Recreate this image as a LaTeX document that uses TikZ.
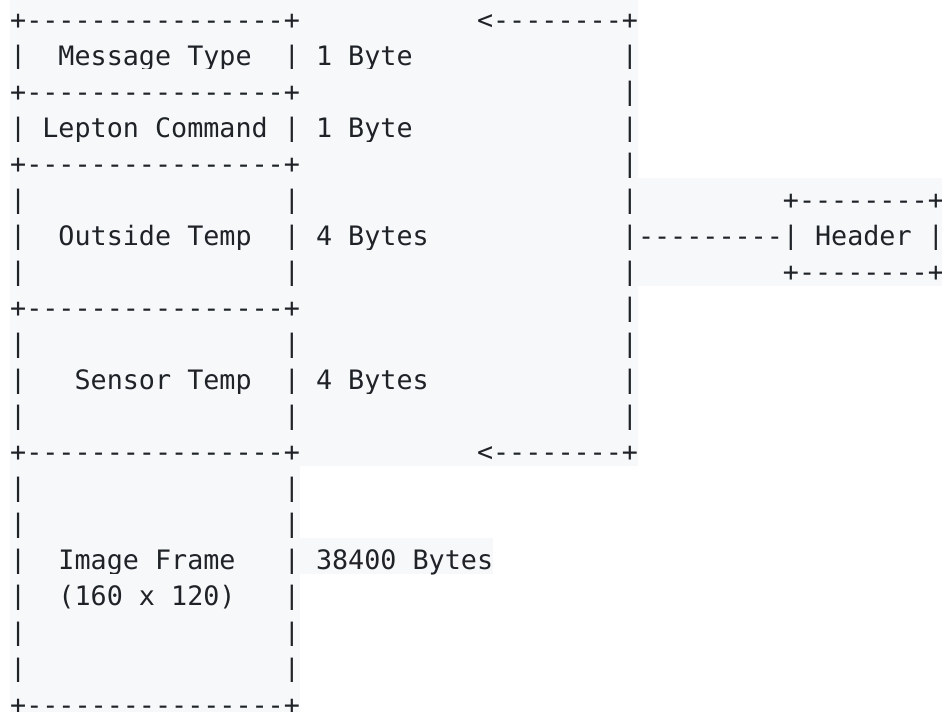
\documentclass[tikz,border=0pt]{standalone}
\usepackage{fontspec}
\setmonofont{DejaVu Sans Mono}
\usepackage{xcolor}
\usepackage{tikz}
\definecolor{codebg}{HTML}{F6F8FA}
\definecolor{codefg}{HTML}{1F2328}
\newlength{\chw}
\settowidth{\chw}{\ttfamily\fontsize{26.74}{36}\selectfont 0}
\newcommand{\blank}[1]{\hspace*{#1\chw}}

\begin{document}
\begin{tikzpicture}[
  x=16.1pt, y=-36.05pt,
  row/.style={anchor=north west, inner sep=0pt, fill=codebg, text=codefg,
              font=\ttfamily\fontsize{26.74}{36}\selectfont,
              text height=31.8pt, text depth=4.55pt}
]
  \useasboundingbox (-0.621,0.0777) rectangle (57.89,19.828);

  % --- header fields ---
  \node[row] (r1)  at (0,0)  {+----------------+\blank{11}<--------+};
  \node[row] (r2)  at (0,1)  {|\blank{2}Message Type\blank{2}|\blank{1}1 Byte\blank{13}|};
  \node[row] (r3)  at (0,2)  {+----------------+\blank{20}|};
  \node[row] (r4)  at (0,3)  {|\blank{1}Lepton Command\blank{1}|\blank{1}1 Byte\blank{13}|};
  \node[row] (r5)  at (0,4)  {+----------------+\blank{20}|};
  \node[row] (r6)  at (0,5)  {|\blank{16}|\blank{20}|\blank{9}+--------+};
  \node[row] (r7)  at (0,6)  {|\blank{2}Outside Temp\blank{2}|\blank{1}4 Bytes\blank{12}|---------|\blank{1}Header\blank{1}|};
  \node[row] (r8)  at (0,7)  {|\blank{16}|\blank{20}|\blank{9}+--------+};
  \node[row] (r9)  at (0,8)  {+----------------+\blank{20}|};
  \node[row] (r10) at (0,9)  {|\blank{16}|\blank{20}|};
  \node[row] (r11) at (0,10) {|\blank{3}Sensor Temp\blank{2}|\blank{1}4 Bytes\blank{12}|};
  \node[row] (r12) at (0,11) {|\blank{16}|\blank{20}|};
  \node[row] (r13) at (0,12) {+----------------+\blank{11}<--------+};

  % --- image frame ---
  \node[row] (r14) at (0,13) {|\blank{16}|};
  \node[row] (r15) at (0,14) {|\blank{16}|};
  \node[row] (r16) at (0,15) {|\blank{2}Image Frame\blank{3}|\blank{1}38400 Bytes};
  \node[row] (r17) at (0,16) {|\blank{2}(160 x 120)\blank{3}|};
  \node[row] (r18) at (0,17) {|\blank{16}|};
  \node[row] (r19) at (0,18) {|\blank{16}|};
  \node[row] (r20) at (0,19) {+----------------+};

\end{tikzpicture}
\end{document}
